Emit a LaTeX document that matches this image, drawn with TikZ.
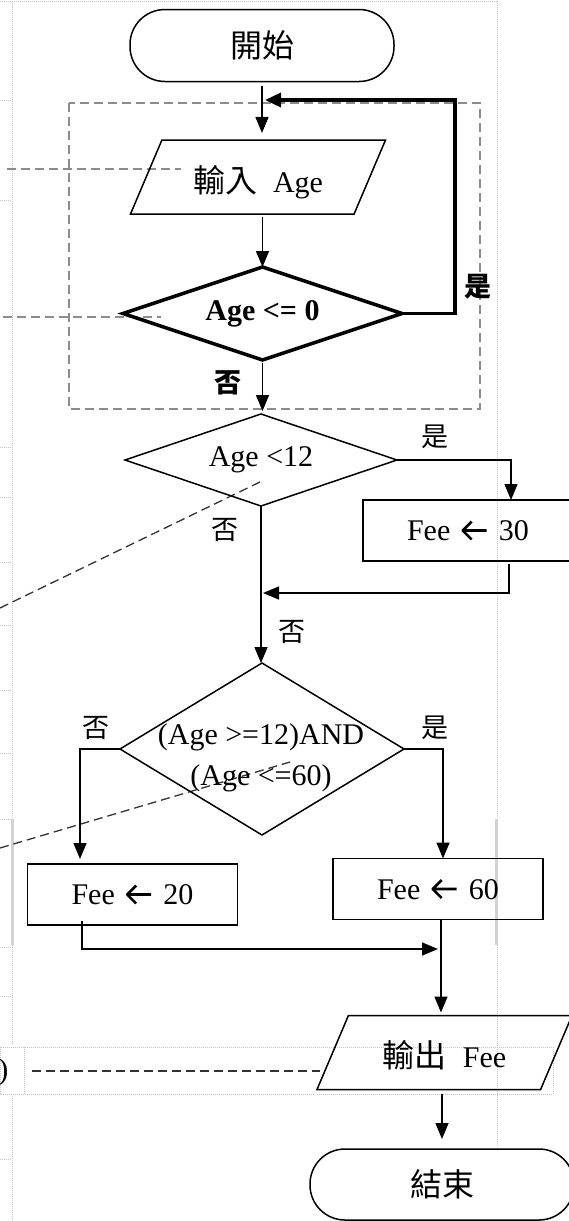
\documentclass[tikz,border=0pt]{standalone}
\usepackage{fontspec}
\setmainfont{Liberation Serif}
\newfontfamily\cjk{Noto Sans CJK TC}
\usetikzlibrary{shapes.geometric,arrows.meta,positioning}
\newcommand{\zh}[1]{{\cjk\fontsize{32}{36}\selectfont #1}}
\newcommand{\asgn}{\hspace{11pt}\tikz[baseline=-10pt]\draw[line width=2.6pt,line join=round] (25pt,0pt) -- (1pt,0pt) (10pt,9pt) -- (1pt,0pt) -- (10pt,-9pt);\hspace{11pt}}

\tikzset{every picture/.style={line width=1.5pt}}
\tikzset{
  flow/.style={-{Triangle[length=16pt,width=13pt]}},
  boldflow/.style={line width=3.5pt,-{Triangle[length=16pt,width=14pt]}},
  terminal/.style={draw,rectangle,rounded corners=35pt,minimum width=264pt,minimum height=72pt,inner sep=0pt,outer sep=0pt,font=\fontsize{30}{36}\selectfont},
  iobox/.style={draw,trapezium,trapezium left angle=67,trapezium right angle=113,trapezium stretches body,text height=30pt,text depth=0pt,inner ysep=22pt,inner xsep=0pt,minimum width=255pt,outer sep=0pt,font=\fontsize{30}{36}\selectfont},
  decision/.style={draw,diamond,inner sep=0pt,outer sep=0pt,font=\fontsize{30}{36}\selectfont},
  procbox/.style={draw,rectangle,minimum width=210pt,minimum height=61pt,inner sep=0pt,outer sep=0pt,font=\fontsize{30}{36}\selectfont},
  yesno/.style={inner sep=0pt,font=\cjk\fontsize{27}{30}\selectfont},
  guide/.style={draw=gray!45,line width=1pt,densely dotted},
  groupframe/.style={draw=gray!90,line width=1.3pt,dash pattern=on 9pt off 5pt},
  callout/.style={draw=gray!90,line width=1.3pt,dash pattern=on 9pt off 5pt},
  darkdash/.style={draw=black!80,line width=1.3pt,dash pattern=on 9pt off 5pt}
}

\begin{document}
\begin{tikzpicture}[x=1pt,y=1pt,yscale=-1]
\useasboundingbox (0,0) rectangle (568,1221);

% page guides
\draw[guide] (0,1) -- (497,1);
\draw[guide] (12,1) -- (12,1045);
\draw[guide] (12,1096) -- (12,1221);
\draw[guide] (497,1) -- (497,1147);
\foreach \y in {100,200,447,497,562,625,690,753,819,947,996,1159}
  \draw[guide] (0,\y) -- (12,\y);
\draw[gray!35,line width=3pt] (12,819) -- (12,945);
\draw[gray!35,line width=3pt] (496,819) -- (496,945);
\draw[guide] (0,1047) rectangle (553,1094);
\draw[guide] (24,1047) -- (24,1094);
\node[anchor=east,inner sep=0pt,font=\fontsize{30}{36}\selectfont] (paren) at (9,1072) {)};

% dashed frame and callouts
\draw[groupframe] (69,103) rectangle (480,409);
\draw[callout] (7,169) -- (181,169);
\draw[callout] (3,317) -- (161,317);
\draw[darkdash] (0,608) -- (262,481);
\draw[darkdash] (0,848) -- (290,762);
\draw[darkdash] (32,1071) -- (320,1071);

%Shape: Terminal
\node[terminal] (start) at (262,45.5) {\zh{開始}};
%Shape: Input
\node[iobox] (input) at (258,177) {\zh{輸入}\hspace{16pt}Age};
%Shape: Diamond
\node[decision,shape aspect=3,line width=3.5pt,minimum width=279pt,minimum height=93pt,font=\bfseries\fontsize{30}{36}\selectfont] (chkzero) at (262.5,313.5) {Age <= 0};
%Shape: Diamond
\node[decision,shape aspect=2.96,minimum width=272pt,minimum height=92pt] (chkchild) at (261,460) {Age <12};
%Shape: Rectangle
\node[procbox] (feethirty) at (468,530.5) {Fee\asgn 30};
%Shape: Diamond
\node[decision,shape aspect=1.65,minimum width=284pt,minimum height=172pt] (chkadult) at (262,749) {};
\node[align=center,inner sep=0pt,font=\fontsize{30}{41}\selectfont] (adulttext) at (261,757.5) {(Age >=12)AND\\(Age <=60)};
%Shape: Rectangle
\node[procbox] (feetwenty) at (132.5,894.5) {Fee\asgn 20};
%Shape: Rectangle
\node[procbox] (feesixty) at (438,889) {Fee\asgn 60};
%Shape: Output
\node[iobox] (output) at (444.5,1052.5) {\zh{輸出}\hspace{16pt}Fee};
%Shape: Terminal
\node[terminal,minimum height=71pt] (stop) at (442,1184.5) {\zh{結束}};

\coordinate (backin) at (265,100);
\coordinate (mergethirty) at (263,593);
\coordinate (mergetwenty) at (438,949);

%Straight Lines
\draw[flow,shorten <=4pt,shorten >=7pt] (start.south) -- (start.south |- input.north);
\draw[flow,shorten <=3pt] (chkzero.north |- input.south) -- (chkzero.north);
\draw[boldflow] (chkzero.east) -- ++(53,0) |- (backin);
\draw[flow,shorten <=3pt,shorten >=3pt] (chkzero.south) -- (chkzero.south |- chkchild.north);
\draw[flow] (chkchild.east) -| ([xshift=43pt]feethirty.north);
\draw[flow,shorten <=3pt] ([xshift=41pt]feethirty.south) |- (mergethirty);
\draw[flow] (chkchild.south) -- (chkchild.south |- chkadult.north);
\draw[flow,shorten >=5pt] (chkadult.west) -| ([xshift=-52.5pt]feetwenty.north);
\draw[flow] (chkadult.east) -| ([xshift=5pt]feesixty.north);
\draw[flow,shorten <=-4pt] ([xshift=-50.5pt]feetwenty.south) |- (mergetwenty);
\draw[flow,shorten >=3pt] ([xshift=3pt]feesixty.south) -- ([xshift=3pt]feesixty.south |- output.north);
\draw[flow,shorten <=4pt,shorten >=10pt] (stop.north |- output.south) -- (stop.north);

% Text Node
\node[yesno,font=\cjk\bfseries\fontsize{27}{30}\selectfont] (nozero) at (228,383) {否};
\node[yesno,font=\cjk\bfseries\fontsize{27}{30}\selectfont] (yeszero) at (478,287) {是};
\node[yesno] (yeschild) at (435,437) {是};
\node[yesno] (nochild) at (225,530) {否};
\node[yesno] (nochildb) at (292,632) {否};
\node[yesno] (noadult) at (96,728) {否};
\node[yesno] (yesadult) at (435,728) {是};

\end{tikzpicture}
\end{document}
